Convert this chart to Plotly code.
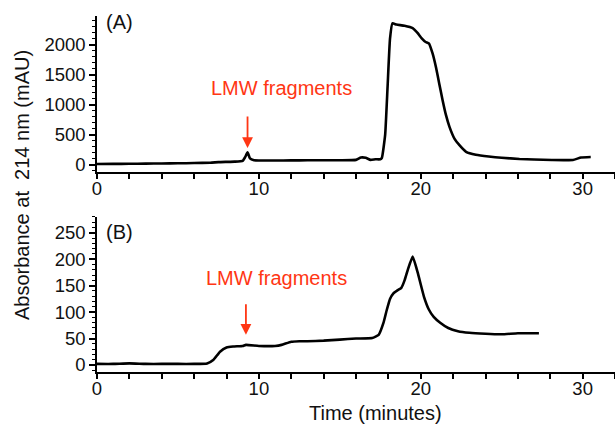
import plotly.graph_objects as go
from plotly.subplots import make_subplots

# Panel A data
time_a = [0, 1, 2, 3, 4, 5, 6, 7, 7.5, 8, 8.5, 9.0, 9.15, 9.3, 9.45, 9.7, 10, 11, 12, 13, 14, 15, 16,
          16.3, 16.6, 16.9, 17.2, 17.5, 17.6, 17.8, 17.95, 18.1, 18.25, 18.5, 19.0, 19.5, 19.8, 20.06,
          20.3, 20.5, 20.73, 20.94, 21.14, 21.35, 21.56, 21.77, 22.08, 22.39, 22.8, 23.4, 24.2, 25,
          26.1, 27, 28.1, 29.4, 29.9, 30.5]
abs_a = [17, 18, 20, 22, 25, 28, 32, 38, 48, 52, 56, 70, 130, 210, 110, 80, 75, 75, 76, 78, 80, 80, 85,
         125, 120, 85, 95, 95, 120, 500, 1300, 2100, 2360, 2340, 2320, 2280, 2200, 2110,
         2050, 2028, 1860, 1630, 1360, 1080, 830, 640, 440, 330, 220, 170, 140, 120,
         100, 92, 83, 83, 125, 133]

# Panel B data
time_b = [0, 1, 2, 3, 4, 5, 6, 6.8, 7.2, 7.6, 8.0, 8.4, 9, 9.2, 10, 11, 11.4, 12, 12.5, 13, 14, 15, 16,
          17, 17.4, 17.7, 17.9, 18.1, 18.3, 18.6, 18.8, 19.0, 19.2, 19.5, 19.8, 20.2, 20.5, 20.8,
          21.2, 21.7, 22.3, 23, 24, 25, 26, 27.3]
abs_b = [2, 2, 3, 2, 2, 2, 2, 3, 10, 25, 33, 35, 36, 38, 36, 36, 38, 44, 45, 45, 46, 48, 50,
         51, 57, 80, 104, 125, 135, 142, 146, 160, 180, 205, 176, 129, 105, 91,
         80, 70, 64, 61, 59, 58, 60, 60]

x_ticks = [0, 10, 20, 30]
y_ticks_a = [0, 500, 1000, 1500, 2000]
y_ticks_b = [0, 50, 100, 150, 200, 250]

RED = "#ff3614"
INK = "#111111"
FONT = "Liberation Sans, Arial, sans-serif"
TICK_SIZE = 18.5
TEXT_SIZE = 20

fig = make_subplots(rows=2, cols=1, vertical_spacing=0.1264)
fig.add_trace(go.Scatter(x=time_a, y=abs_a, mode="lines",
                         line=dict(color="black", width=2.6, shape="spline", smoothing=0.4)),
              row=1, col=1)
fig.add_trace(go.Scatter(x=time_b, y=abs_b, mode="lines",
                         line=dict(color="black", width=2.6, shape="spline", smoothing=0.4)),
              row=2, col=1)

xax = dict(range=[0, 32], tickvals=x_ticks, ticks="outside", ticklen=5, tickwidth=1.5,
           tickcolor="black", showline=True, linecolor="black", linewidth=1.5,
           showgrid=False, zeroline=False, ticklabelstandoff=-6,
           minor=dict(dtick=2, tick0=0, ticks="outside", ticklen=5, tickwidth=1.5, tickcolor="black"),
           tickfont=dict(size=TICK_SIZE, color=INK, family=FONT))
fig.update_xaxes(**xax)
fig.update_xaxes(domain=[0, 1])

yax = dict(ticks="outside", ticklen=6, tickwidth=1.5, tickcolor="black",
           showline=True, linecolor="black", linewidth=1.5, showgrid=False, zeroline=False,
           tickfont=dict(size=TICK_SIZE, color=INK, family=FONT))
fig.update_yaxes(**yax)
fig.update_yaxes(range=[-117, 2483], tickvals=y_ticks_a, domain=[0.5618, 1.0],
                 minor=dict(dtick=100, tick0=0, ticks="outside", ticklen=3, tickwidth=1, tickcolor="black"),
                 row=1, col=1)
fig.update_yaxes(range=[-13.3, 280], tickvals=y_ticks_b, domain=[0.0, 0.4354],
                 minor=dict(dtick=10, tick0=0, ticks="outside", ticklen=3, tickwidth=1, tickcolor="black"),
                 row=2, col=1)

ann = []
# panel labels
ann.append(dict(x=1.42, y=2383, xref="x", yref="y", text="(A)", showarrow=False,
                font=dict(size=TEXT_SIZE, color=INK, family=FONT)))
ann.append(dict(x=1.42, y=252, xref="x2", yref="y2", text="(B)", showarrow=False,
                font=dict(size=TEXT_SIZE, color=INK, family=FONT)))
# LMW text
ann.append(dict(x=11.37, y=1283, xref="x", yref="y", text="LMW fragments", showarrow=False,
                font=dict(size=TEXT_SIZE, color=RED, family=FONT)))
ann.append(dict(x=11.1, y=165, xref="x2", yref="y2", text="LMW fragments", showarrow=False,
                font=dict(size=TEXT_SIZE, color=RED, family=FONT)))
# arrows
ann.append(dict(x=9.3, y=283, xref="x", yref="y", text="", showarrow=True, ax=0, ay=-33,
                arrowhead=2, arrowsize=1.2, arrowwidth=1.8, arrowcolor=RED))
ann.append(dict(x=9.2, y=57, xref="x2", yref="y2", text="", showarrow=True, ax=0, ay=-32,
                arrowhead=2, arrowsize=1.2, arrowwidth=1.8, arrowcolor=RED))
# axis titles (pixel positions, converted to paper coords below)
ann.append(dict(x=375, y=413, text="Time (minutes)", showarrow=False,
                font=dict(size=TEXT_SIZE, color=INK, family=FONT)))
ann.append(dict(x=22, y=185, text="Absorbance at  214 nm (mAU)", showarrow=False, textangle=-90,
                font=dict(size=TEXT_SIZE, color=INK, family=FONT)))

L, R, T, B = 97, 0, 16, 55
W, H = 615, 427
pw, ph = W - L - R, H - T - B
for a in ann[-2:]:
    px, py = a["x"], a["y"]
    a["x"] = (px - L) / pw
    a["y"] = (H - B - py) / ph
    a["xref"] = "paper"
    a["yref"] = "paper"
    a["xanchor"] = "center"
    a["yanchor"] = "middle"

fig.update_layout(width=W, height=H, margin=dict(l=L, r=R, t=T, b=B),
                  paper_bgcolor="white", plot_bgcolor="white", showlegend=False,
                  annotations=ann, font=dict(family=FONT))
fig.write_html("out.html", config={"displayModeBar": False},
               post_script="document.body.style.margin='0';document.body.style.padding='0';")
